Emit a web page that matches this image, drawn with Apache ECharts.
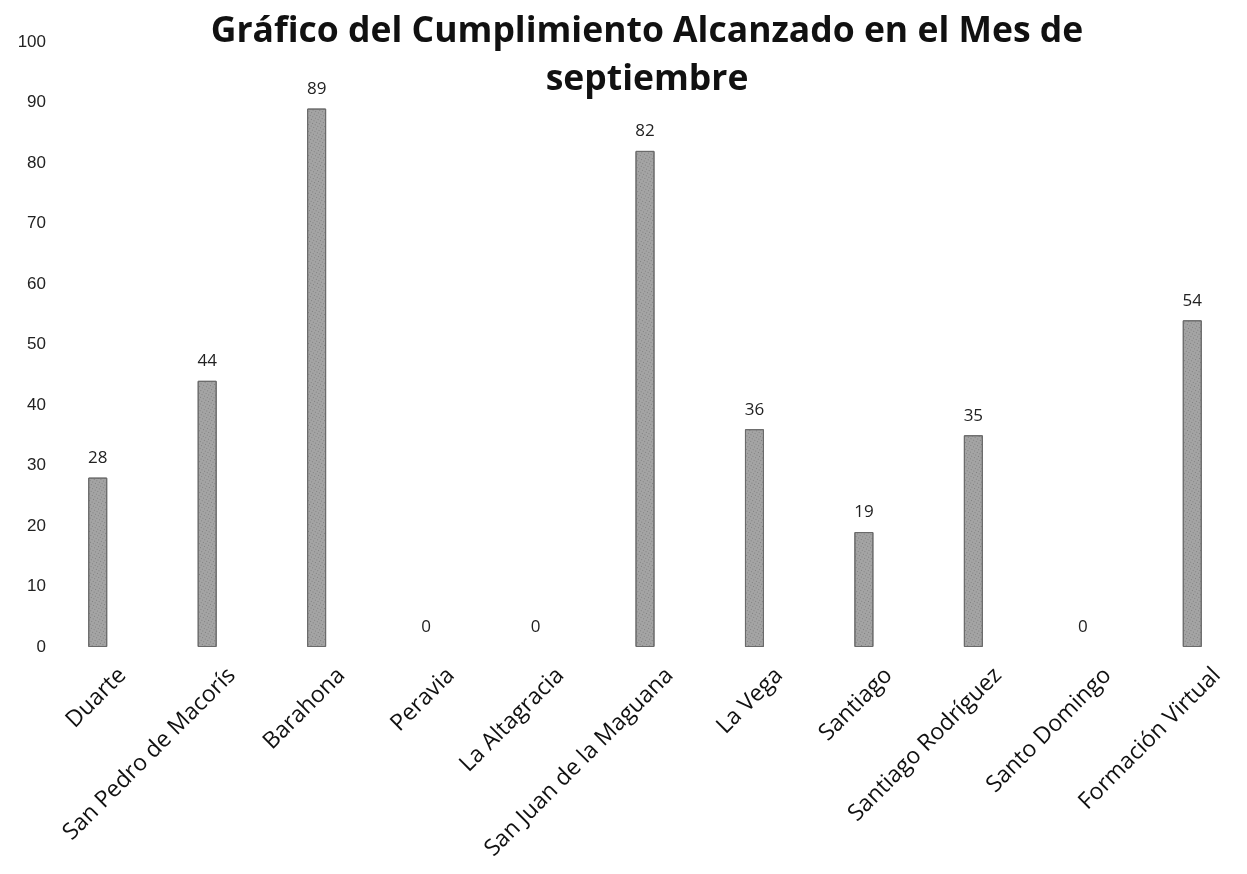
<!DOCTYPE html>
<html><head><meta charset="utf-8">
<script src="https://cdn.jsdelivr.net/npm/echarts@6/dist/echarts.min.js"></script>
<style>html,body{margin:0;padding:0;background:#fff}#c{width:1247px;height:874px}</style>
</head><body><div id="c"></div>
<script>
const categories = ["Duarte","San Pedro de Macorís","Barahona","Peravia","La Altagracia","San Juan de la Maguana","La Vega","Santiago","Santiago Rodríguez","Santo Domingo","Formación Virtual"];
const values = [28,44,89,0,0,82,36,19,35,0,54];
const titleLines = ["Gráfico del Cumplimiento Alcanzado en el Mes de","septiembre"];
const chart = echarts.init(document.getElementById('c'));
chart.setOption({
  backgroundColor:'#fff',
  animation:false,
  title:{text:titleLines.join('\n'),left:642,top:3,textAlign:'center',
    textStyle:{fontFamily:'Open Sans',fontWeight:'bold',fontSize:35.5,color:'#111',lineHeight:48}},
  grid:{left:43,width:1221,top:42,bottom:227,containLabel:false},
  xAxis:{type:'category',data:categories,axisLine:{show:false},axisTick:{show:false},
    axisLabel:{rotate:45,fontFamily:'Open Sans',fontSize:23,color:'#111',margin:0,interval:0,
      verticalAlign:'top',padding:[22,0,0,0],lineHeight:26}},
  yAxis:{type:'value',min:0,max:100,interval:10,splitLine:{show:false},axisLine:{show:false},axisTick:{show:false},
    axisLabel:{fontFamily:'Liberation Sans',fontSize:17,color:'#222',margin:-3}},
  series:[{type:'bar',data:values.map(v=>({value:v,itemStyle:v===0?{borderWidth:0}:{}})),barWidth:19,
    itemStyle:{color:'#a4a4a4',borderColor:'#6a6a6a',borderWidth:1,
      decal:{symbol:'rect',symbolSize:1,dashArrayX:[1,2],dashArrayY:[1,2],rotation:0.5,color:'rgba(60,60,60,0.35)'}},
    label:{show:true,position:'top',distance:11,fontFamily:'Open Sans',fontSize:17,color:'#222'}}]
});
</script></body></html>
